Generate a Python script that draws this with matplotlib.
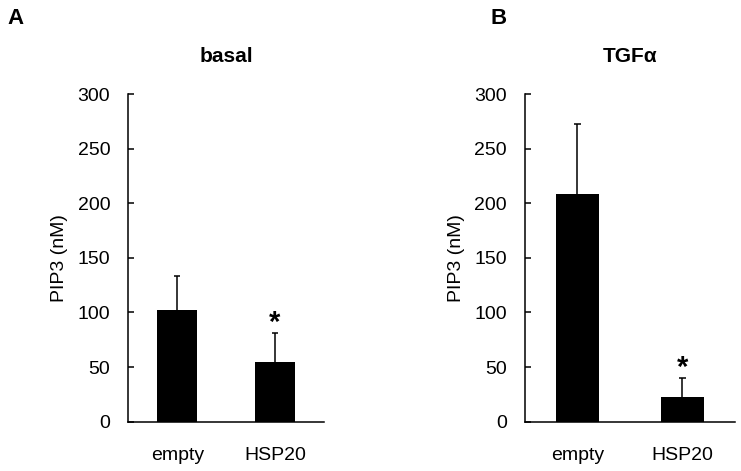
import matplotlib
matplotlib.use("Agg")
import matplotlib.pyplot as plt
import numpy as np

plt.rcParams['font.family'] = ['Liberation Sans', 'DejaVu Sans']

categories = ["empty", "HSP20"]
basal_values = [102, 54.5]
basal_errors = [31, 26.5]
tgf_values = [208, 22.8]
tgf_errors = [65, 17]
yticks = [0, 50, 100, 150, 200, 250, 300]
significant = [False, True]

fig = plt.figure(figsize=(7.41, 4.71), dpi=100)
axA = fig.add_axes([0.1731, 0.1047, 0.2641, 0.6957])
axB = fig.add_axes([0.7085, 0.1047, 0.2834, 0.6957])

def draw(ax, vals, errs, title):
    x = np.arange(len(categories))
    vals = np.asarray(vals, dtype=float)
    errs = np.asarray(errs, dtype=float)
    ax.bar(x, vals, width=0.41, color='black', zorder=2)
    tops = vals + errs
    ax.vlines(x, vals, tops, color='black', linewidth=1.1, zorder=1)
    ax.hlines(tops, x - 0.03, x + 0.03, color='black', linewidth=1.1, zorder=1)
    for xi, t, s in zip(x, tops, significant):
        if s:
            ax.annotate("*", xy=(xi, t), xytext=(0, -3), textcoords='offset points',
                        ha='center', va='bottom', fontsize=21, fontweight='bold')
    ax.set_xlim(-0.5, 1.5)
    ax.set_ylim(0, 300)
    ax.set_yticks(yticks)
    ax.set_xticks(x)
    ax.set_xticklabels(categories)
    ax.tick_params(axis='y', direction='in', length=4.5, width=1.1, labelsize=14, pad=13)
    ax.tick_params(axis='x', length=0, labelsize=14, pad=18)
    for sp in ['top', 'right']:
        ax.spines[sp].set_visible(False)
    for sp in ['left', 'bottom']:
        ax.spines[sp].set_linewidth(1.1)
    ax.set_ylabel("PIP3 (nM)", fontsize=14, labelpad=7)
    ax.set_title(title, fontsize=15, fontweight='bold', pad=23)

draw(axA, basal_values, basal_errors, "basal")
draw(axB, tgf_values, tgf_errors, "TGF\u03b1")

fig.text(7/741, 1 - 24.3/471, "A", fontsize=16, fontweight='bold', ha='left', va='baseline')
fig.text(490/741, 1 - 24.3/471, "B", fontsize=16, fontweight='bold', ha='left', va='baseline')

fig.savefig("out.png", dpi=100)
